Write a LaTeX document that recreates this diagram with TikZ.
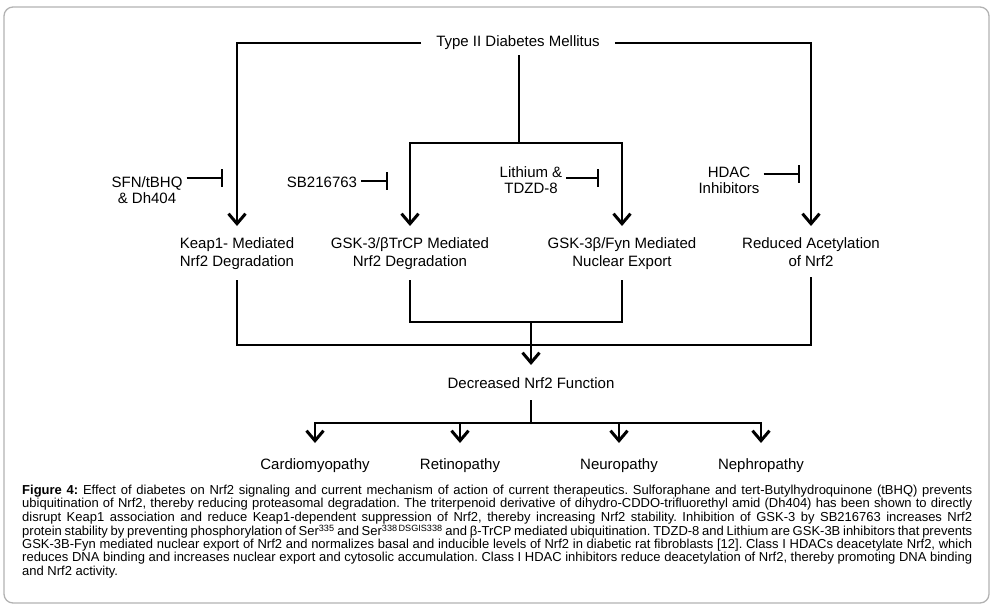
\documentclass[tikz,border=0pt]{standalone}
\usepackage{fontspec}
\setmainfont{Liberation Sans}
\usetikzlibrary{arrows.meta}
\begin{document}
\frenchspacing
\begin{tikzpicture}[x=1pt,y=-1pt,
 conn/.style={line width=2pt, black},
 arr/.style={conn, -{Straight Barb[length=10pt,width=17pt,line width=3pt]}},
 inh/.style={line width=1.5pt, -{Bar[width=18pt,line width=1.6pt]}},
 lbl/.style={align=center, font=\fontsize{15}{18}\selectfont, inner xsep=1pt, inner ysep=11pt, anchor=north},
 inhlbl/.style={align=center, font=\fontsize{15}{16}\selectfont, inner xsep=4pt, inner ysep=1pt},
 outc/.style={font=\fontsize{15}{18}\selectfont, inner xsep=1pt, inner ysep=15pt, anchor=north},
]
\useasboundingbox (0,0) rectangle (993,611);
\draw[gray!60, line width=1.3pt, rounded corners=9pt] (4,7) rectangle (989,603);

% title
\node[font=\fontsize{15}{18}\selectfont, inner xsep=15pt, inner ysep=5pt] (title) at (518,43) {Type II Diabetes Mellitus};

% targets
\node[lbl] (keap) at (237,226) {Keap1- Mediated\\Nrf2 Degradation};
\node[lbl] (gsk)  at (410,226) {GSK-3/βTrCP Mediated\\Nrf2 Degradation};
\node[lbl] (fyn)  at (622,226) {GSK-3β/Fyn Mediated\\Nuclear Export};
\node[lbl] (acet) at (811,226) {Reduced Acetylation\\of Nrf2};
\node[lbl, inner ysep=12pt] (dec) at (531,365) {Decreased Nrf2 Function};

% outcomes
\node[outc] (cardio) at (315,443) {Cardiomyopathy};
\node[outc] (retino) at (460,443) {Retinopathy};
\node[outc] (neuro)  at (619,443) {Neuropathy};
\node[outc] (nephro) at (761,443) {Nephropathy};

% inhibitors
\node[inhlbl] (sfn)  at (147,190) {SFN/tBHQ\\\& Dh404};
\node[inhlbl] (sb)   at (322,182) {SB216763};
\node[inhlbl] (li)   at (531,180) {Lithium \&\\TDZD-8};
\node[inhlbl] (hdac) at (729,180) {HDAC\\Inhibitors};
\coordinate (sfnbar)  at (223,178);
\coordinate (sbbar)   at (388,181);
\coordinate (libar)   at (599,178);
\coordinate (hdacbar) at (800,174);
\draw[inh] (sfn.east |- sfnbar) -- (sfnbar);
\draw[inh] (sb.east |- sbbar) -- (sbbar);
\draw[inh] (li.east |- libar) -- (libar);
\draw[inh] (hdac.east |- hdacbar) -- (hdacbar);

% top connectors
\draw[arr] (title.west) -| (keap.north);
\draw[arr] (title.east) -| (acet.north);
\coordinate (split) at (519,143);
\draw[conn] (title.south -| split) -- (split);
\draw[arr] (split) -| (gsk.north);
\draw[arr] (split) -| (fyn.north);

% merging
\coordinate (m1) at (531,322);
\coordinate (m2) at (531,345);
\draw[conn] (gsk.south) |- (m1) -| (fyn.south);
\draw[conn] (keap.south) |- (m2) -| (acet.south);
\draw[arr] (m1) -- (dec.north);

% outcomes
\coordinate (m3) at (531,423);
\draw[conn] (dec.south) -- (m3);
\draw[arr] (m3) -| (cardio.north);
\draw[arr] (m3) -| (retino.north);
\draw[arr] (m3) -| (neuro.north);
\draw[arr] (m3) -| (nephro.north);

% caption
\node[anchor=north west, inner sep=0pt, text width=950pt, align=justify,
      font=\fontsize{13}{13.2}\selectfont] (cap) at (22,485)
{\textbf{Figure 4:} Effect of diabetes on Nrf2 signaling and current mechanism of action of current therapeutics. Sulforaphane and tert-Butylhydroquinone (tBHQ) prevents\linebreak
ubiquitination of Nrf2, thereby reducing proteasomal degradation. The triterpenoid derivative of dihydro-CDDO-trifluorethyl amid (Dh404) has been shown to directly\linebreak
disrupt Keap1 association and reduce Keap1-dependent suppression of Nrf2, thereby increasing Nrf2 stability. Inhibition of GSK-3 by SB216763 increases Nrf2\linebreak
protein stability by preventing phosphorylation of Ser\textsuperscript{335} and Ser\textsuperscript{338\,DSGIS338} and β-TrCP mediated ubiquitination. TDZD-8 and Lithium are GSK-3B inhibitors that prevents\linebreak
GSK-3B-Fyn mediated nuclear export of Nrf2 and normalizes basal and inducible levels of Nrf2 in diabetic rat fibroblasts [12]. Class I HDACs deacetylate Nrf2, which\linebreak
reduces DNA binding and increases nuclear export and cytosolic accumulation. Class I HDAC inhibitors reduce deacetylation of Nrf2, thereby promoting DNA binding\linebreak
and Nrf2 activity.};
\end{tikzpicture}
\end{document}
